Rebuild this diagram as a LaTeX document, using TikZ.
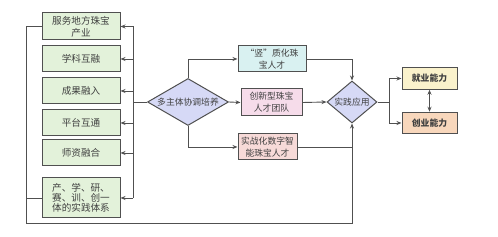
\documentclass[tikz,border=0pt]{standalone}
\usepackage{fontspec}
\setmainfont{Noto Sans CJK SC}
\usepackage{xcolor}
\usepackage{tikz}
\usetikzlibrary{arrows.meta, positioning, shapes.geometric}
\definecolor{lgreen}{HTML}{E3F2DA}
\definecolor{lviolet}{HTML}{D6D9F6}
\definecolor{lcyan}{HTML}{D9F1F1}
\definecolor{lpink}{HTML}{F6DCEA}
\definecolor{lrose}{HTML}{F7DAD8}
\definecolor{lyellow}{HTML}{FAF2CC}
\definecolor{lpeach}{HTML}{F8D7BC}
\definecolor{edgegray}{HTML}{505050}
\definecolor{txtgray}{HTML}{404040}
\tikzset{
  basebox/.style={rectangle,draw=edgegray,line width=1pt,inner sep=0pt,align=center,text=txtgray,font=\fontsize{8.8}{12}\selectfont},
  leftbox/.style={basebox,fill=lgreen,minimum width=78pt,minimum height=26pt,font=\fontsize{9.6}{12}\selectfont},
  talentbox/.style={basebox,minimum height=26pt},
  abilbox/.style={basebox,minimum width=55pt,minimum height=21.5pt,font=\fontsize{8.8}{12}\selectfont\bfseries},
  decnode/.style={diamond,draw=edgegray,line width=1pt,fill=lviolet,inner sep=0pt,text=txtgray,font=\fontsize{8.8}{12}\selectfont},
  flow/.style={-{Stealth[length=5pt,width=4pt]},line width=0.9pt,edgegray},
  plain/.style={line width=0.9pt,edgegray},
  twoway/.style={{Stealth[length=5pt,width=4pt]}-{Stealth[length=5pt,width=4pt]},line width=0.9pt,edgegray},
}
\begin{document}
\begin{tikzpicture}[x=1pt,y=-1pt]
  \useasboundingbox (0,0) rectangle (498,237);
  % left column
  \node[leftbox,minimum height=27pt] (nServe) at (81,26.5) {服务地方珠宝\\产业};
  \node[leftbox] (nDisc) at (81,59) {学科互融};
  \node[leftbox] (nResult) at (81,91) {成果融入};
  \node[leftbox] (nPlat) at (81,123) {平台互通};
  \node[leftbox] (nTeach) at (81,153) {师资融合};
  \node[leftbox,minimum height=40pt,font=\fontsize{9.6}{10}\selectfont] (nSys) at (81,198) {产、学、研、\\赛、训、创一\\体的实践体系};
  % middle
  \node[decnode,aspect=1.7,minimum width=81pt,minimum height=47pt] (nCoord) at (188,102) {多主体协调培养};
  \node[talentbox,fill=lcyan,minimum width=68pt] (nVert) at (272,59) {“竖”质化珠\\宝人才};
  \node[talentbox,fill=lpink,minimum width=61pt,minimum height=27pt] (nInnov) at (271.5,102.5) {创新型珠宝\\人才团队};
  \node[talentbox,fill=lrose,minimum width=59pt] (nDigit) at (267.5,147) {实战化数字智\\能珠宝人才};
  \node[decnode,aspect=1.2,minimum width=50pt,minimum height=42pt] (nPrac) at (352,102) {实践应用};
  % right
  \node[abilbox,fill=lyellow] (nEmploy) at (429.5,78.5) {就业能力};
  \node[abilbox,fill=lpeach] (nStart) at (429.5,123) {创业能力};
  \coordinate (bus) at (133,102);
  \coordinate (loopL) at (26,223);
  \coordinate (split) at (389,102);
  % connectors
  \draw[plain] (nCoord.west) -- (bus);
  \draw[plain] (nServe.east -| bus) -- (nSys.east -| bus);
  \foreach \n in {nServe,nDisc,nResult,nPlat,nTeach,nSys}
    \draw[flow] (\n.east -| bus) -- (\n.east);
  \draw[plain] (nSys.west) -- (nSys.west -| loopL);
  \draw[flow] (nServe.west) -| (loopL) -| (nPrac.south);
  \draw[flow] (nCoord.north) |- (nVert.west);
  \draw[flow] (nCoord.east) -- (nInnov.west);
  \draw[flow] (nCoord.south) |- (nDigit.west);
  \draw[flow] (nVert.east) -| (nPrac.north);
  \draw[flow] (nInnov.east) -- (nPrac.west);
  \draw[plain] (nDigit.east) -- (nDigit.east -| nPrac);
  \draw[plain] (nPrac.east) -- (split);
  \draw[flow] (split) |- (nEmploy.west);
  \draw[flow] (split) |- (nStart.west);
  \draw[twoway] (nEmploy.south) -- (nStart.north);
\end{tikzpicture}
\end{document}
